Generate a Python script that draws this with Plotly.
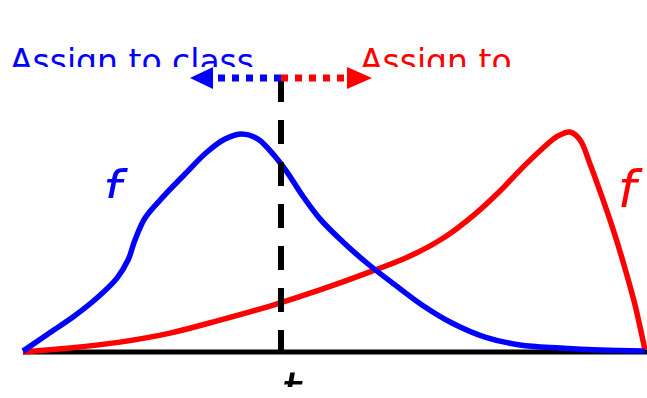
import plotly.graph_objects as go

# ---- data ----
blue_x = [0.0, 0.403, 0.806, 1.210, 1.516, 1.694, 1.806, 1.968, 2.258, 2.613, 2.968, 3.258,
          3.532, 3.790, 4.016, 4.258, 4.5, 4.790, 5.161, 5.565, 6.0, 6.435, 6.919, 7.452,
          8.016, 8.661, 9.306, 10.032]
blue_y = [0.004, 0.082, 0.159, 0.25, 0.336, 0.418, 0.509, 0.609, 0.705, 0.809, 0.909, 0.968,
          0.991, 0.968, 0.905, 0.818, 0.714, 0.605, 0.5, 0.4, 0.305, 0.214, 0.132, 0.068,
          0.032, 0.018, 0.009, 0.005]
red_x = [0.0, 0.758, 1.565, 2.371, 3.177, 3.984, 4.790, 5.597, 6.242, 6.806, 7.290, 7.694,
         8.048, 8.371, 8.629, 8.823, 8.984, 9.145, 9.339, 9.532, 9.726, 9.871, 10.032]
red_y = [0.0, 0.018, 0.045, 0.086, 0.145, 0.209, 0.282, 0.364, 0.436, 0.523, 0.627, 0.732,
         0.836, 0.923, 0.982, 1.0, 0.964, 0.855, 0.705, 0.545, 0.364, 0.214, 0.009]
threshold = 4.161
axis_x = [0.0, 10.2]
axis_y = [0.0, 0.0]
arrow_level = 1.245
blue_head = [3.065, 2.694]   # base, tip
red_head = [5.226, 5.629]
head_half = 0.05
label_left = "Assign to class"
label_right = "Assign to"

W, H = 647, 398
XR = [-23 / 62, 624 / 62]
YR = [-46 / 220, 352 / 220]

def py_paper(py):
    return 1 - py / H

def px_paper(px):
    return px / W

FONT = "DejaVu Sans"
fig = go.Figure()

fig.add_trace(go.Scatter(x=axis_x, y=axis_y, mode="lines",
                         line=dict(color="black", width=5), hoverinfo="skip"))
fig.add_trace(go.Scatter(x=red_x, y=red_y, mode="lines",
                         line=dict(color="#ff0000", width=5.5, shape="spline", smoothing=1.0),
                         hoverinfo="skip"))
fig.add_trace(go.Scatter(x=blue_x, y=blue_y, mode="lines",
                         line=dict(color="#0000ff", width=5.5, shape="spline", smoothing=1.0),
                         hoverinfo="skip"))

# texts
fig.add_trace(go.Scatter(x=[-0.21], y=[1.307], mode="text", text=[label_left],
                         textposition="middle right",
                         textfont=dict(family=FONT, size=33, color="#0000ff"), hoverinfo="skip"))
fig.add_trace(go.Scatter(x=[5.435], y=[1.307], mode="text", text=[label_right],
                         textposition="middle right",
                         textfont=dict(family=FONT, size=33, color="#ff0000"), hoverinfo="skip"))
fig.add_trace(go.Scatter(x=[1.44], y=[0.717], mode="text", text=["f"],
                         textposition="middle center",
                         textfont=dict(family=FONT, size=52, color="#0000ff", style="italic"),
                         hoverinfo="skip"))
fig.add_trace(go.Scatter(x=[9.742], y=[0.717], mode="text", text=["f"],
                         textposition="middle center",
                         textfont=dict(family=FONT, size=52, color="#ff0000", style="italic"),
                         hoverinfo="skip"))
fig.add_trace(go.Scatter(x=[4.323], y=[-0.2], mode="text", text=["t"],
                         textposition="middle center",
                         textfont=dict(family=FONT, size=52, color="black", style="italic"),
                         hoverinfo="skip"))

shapes = []
white = dict(type="rect", xref="paper", yref="paper", fillcolor="white",
             line=dict(width=0), layer="above")
shapes.append(dict(white, x0=0, x1=1, y0=py_paper(90), y1=py_paper(67)))
shapes.append(dict(white, x0=px_paper(90), x1=px_paper(131), y0=py_paper(225), y1=py_paper(198)))
shapes.append(dict(white, x0=0, x1=1, y0=0, y1=py_paper(387)))

shapes.append(dict(type="line", xref="x", yref="y", x0=threshold, x1=threshold,
                   y0=arrow_level, y1=0, layer="above",
                   line=dict(color="black", width=6, dash="24px,18px")))
shapes.append(dict(type="line", xref="x", yref="y", x0=threshold, x1=blue_head[0],
                   y0=arrow_level, y1=arrow_level, layer="above",
                   line=dict(color="#0000ff", width=7, dash="7px,7px")))
shapes.append(dict(type="line", xref="x", yref="y", x0=threshold, x1=red_head[0],
                   y0=arrow_level, y1=arrow_level, layer="above",
                   line=dict(color="#ff0000", width=7, dash="7px,7px")))
for (b, t), c in [(blue_head, "#0000ff"), (red_head, "#ff0000")]:
    shapes.append(dict(type="path", xref="x", yref="y", layer="above",
                       path=f"M {b},{arrow_level + head_half} L {t},{arrow_level} L {b},{arrow_level - head_half} Z",
                       fillcolor=c, line=dict(width=0)))

fig.update_layout(
    width=W, height=H, margin=dict(l=0, r=0, t=0, b=0),
    paper_bgcolor="white", plot_bgcolor="white", showlegend=False,
    xaxis=dict(range=XR, visible=False, fixedrange=True),
    yaxis=dict(range=YR, visible=False, fixedrange=True),
    shapes=shapes,
)
fig.write_html("out.html", config={"displayModeBar": False},
               post_script="document.body.style.margin='0';document.body.style.overflow='hidden';")
